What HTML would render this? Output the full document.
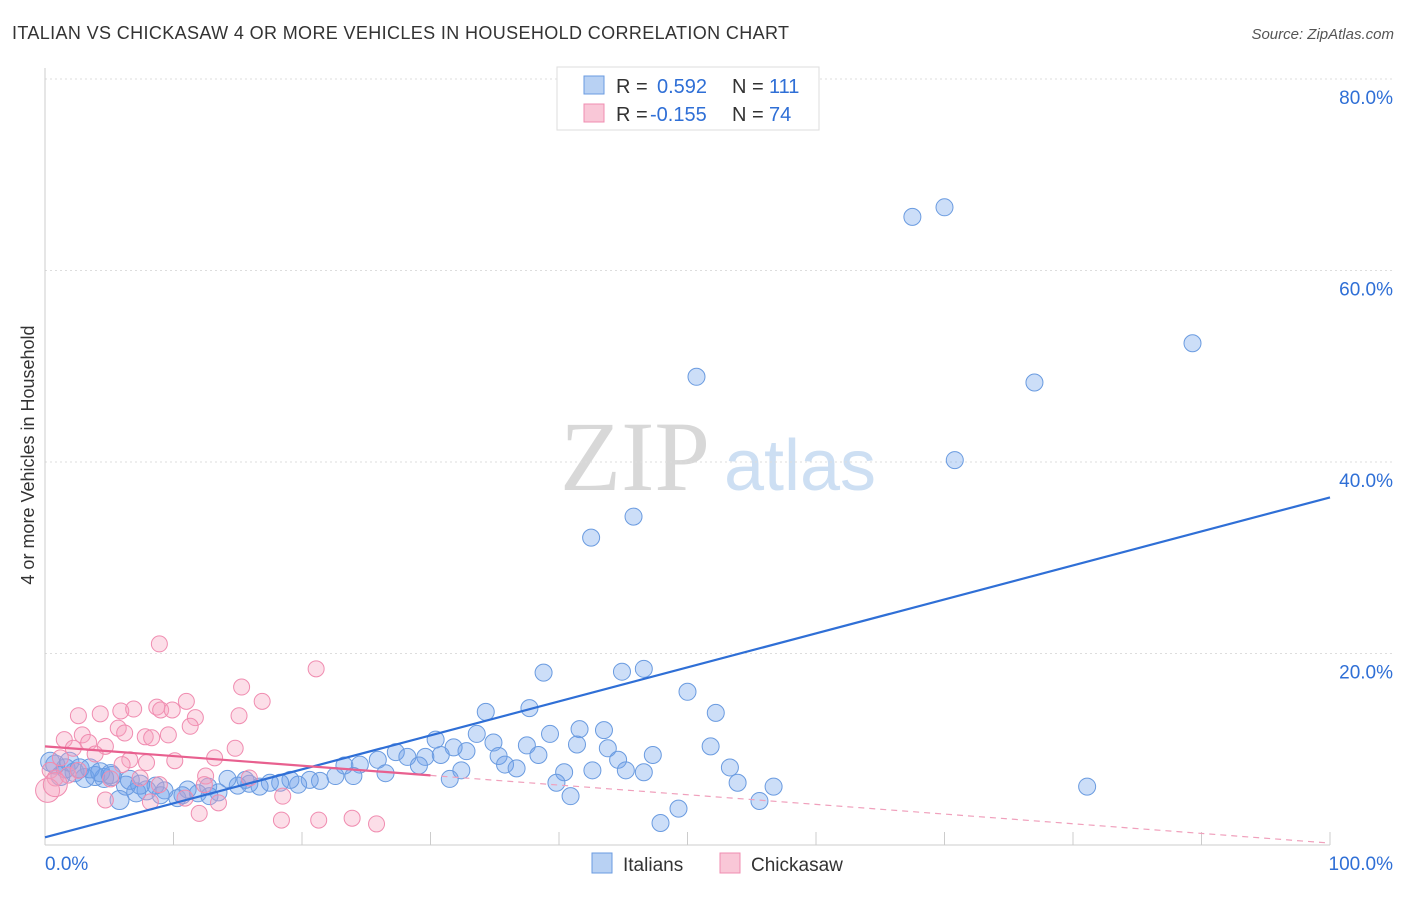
<!DOCTYPE html>
<html><head><meta charset="utf-8"><style>
body{margin:0;background:#fff;font-family:"Liberation Sans",sans-serif;}
</style></head><body>
<svg id="chart" width="1406" height="892" viewBox="0 0 1406 892" font-family="Liberation Sans, sans-serif">
<text x="12" y="39" font-size="18" fill="#333" textLength="777">ITALIAN VS CHICKASAW 4 OR MORE VEHICLES IN HOUSEHOLD CORRELATION CHART</text>
<text x="1394" y="39" font-size="15" fill="#555" text-anchor="end" font-style="italic">Source: ZipAtlas.com</text>
<text transform="translate(34,455) rotate(-90)" font-size="18" fill="#333" text-anchor="middle">4 or more Vehicles in Household</text>
<g>
<text x="635" y="490" font-size="100" fill="#d8d8d8" text-anchor="middle" style="font-family:'Liberation Serif',serif">ZIP</text>
<text x="800" y="490" font-size="72" fill="#cddff3" text-anchor="middle">atlas</text>
</g>
<g id="grid"></g><g id="ticks"></g><g id="marks"></g><g id="lines"></g>
<g>
<rect x="557" y="67" width="262" height="63" fill="#fff" stroke="#ddd"/>
<rect x="584" y="76" width="20" height="18" fill="#b8d1f3" stroke="#6a9be0"/>
<rect x="584" y="104" width="20" height="18" fill="#f9c7d7" stroke="#f08cb0"/>
<text x="616" y="93" font-size="20" fill="#333">R =</text>
<text x="657" y="93" font-size="20" fill="#2f6fd6">0.592</text>
<text x="732" y="93" font-size="20" fill="#333">N =</text>
<text x="769" y="93" font-size="20" fill="#2f6fd6">111</text>
<text x="616" y="121" font-size="20" fill="#333">R =</text>
<text x="650" y="121" font-size="20" fill="#2f6fd6">-0.155</text>
<text x="732" y="121" font-size="20" fill="#333">N =</text>
<text x="769" y="121" font-size="20" fill="#2f6fd6">74</text>
</g>
<g>
<rect x="592" y="853" width="20" height="20" fill="#b8d1f3" stroke="#6a9be0"/>
<text x="623" y="871" font-size="19" fill="#333">Italians</text>
<rect x="720" y="853" width="20" height="20" fill="#f9c7d7" stroke="#f08cb0"/>
<text x="751" y="871" font-size="19" fill="#333">Chickasaw</text>
</g>
<text x="45" y="870" font-size="19" fill="#2f6fd6">0.0%</text>
<text x="1393" y="870" font-size="19" fill="#2f6fd6" text-anchor="end">100.0%</text>
</svg>
<script>
const yTicks=[20,40,60,80];
const yTickLabels=["20.0%","40.0%","60.0%","80.0%"];
const xTicks=[0,10,20,30,40,50,60,70,80,90,100];
const italiansX=[67.5,70.0,89.3,77.0,70.8,50.7,45.8,42.5,38.8,44.9,46.6,50.0,52.2,51.8,53.3,53.9,55.6,56.7,81.1,47.9,49.3,37.7,34.3,39.3,41.6,43.5,41.4,43.8,47.3,44.6,45.2,46.6,42.6,40.4,39.8,40.9,37.5,38.4,34.9,35.3,33.6,32.8,30.4,31.8,30.8,32.4,31.5,35.8,36.7,25.9,27.3,28.2,29.6,29.1,26.5,24.5,23.3,24.0,22.6,21.4,20.6,19.7,19.1,18.3,17.5,16.7,15.9,15.0,14.2,13.5,12.7,11.9,11.1,10.3,9.3,8.6,7.9,7.1,6.3,5.8,5.2,4.6,3.9,3.1,2.3,1.6,0.8,0.4,1.2,1.9,2.7,3.5,4.3,5.1,6.6,7.4,9.0,10.7,12.8,15.6];
const italiansY=[65.6,66.6,52.4,48.3,40.2,48.9,34.3,32.1,18.0,18.1,18.4,16.0,13.8,10.3,8.1,6.5,4.6,6.1,6.1,2.3,3.8,14.3,13.9,11.6,12.1,12.0,10.5,10.1,9.4,8.9,7.8,7.6,7.8,7.6,6.5,5.1,10.4,9.4,10.7,9.3,11.6,9.8,11.0,10.2,9.4,7.8,6.9,8.4,8.0,8.9,9.7,9.2,9.2,8.3,7.5,8.4,8.3,7.2,7.2,6.7,6.8,6.3,6.8,6.5,6.5,6.1,6.4,6.2,6.9,5.5,6.1,5.4,5.8,4.9,5.7,6.2,5.7,5.5,6.2,4.7,7.2,7.0,7.2,7.0,7.6,8.0,8.4,8.7,7.2,8.7,8.0,8.0,7.6,7.4,6.8,6.3,5.2,5.2,5.1,6.8];
const chickasawX=[8.9,21.1,15.3,11.0,16.9,2.6,4.3,5.9,6.9,8.7,9.0,9.9,11.7,15.1,11.3,5.7,2.9,1.5,3.4,4.7,6.2,7.8,8.3,9.6,2.2,3.9,6.6,7.9,13.2,14.8,10.1,1.2,0.4,0.8,1.8,2.6,6.0,5.1,7.4,8.9,12.5,12.4,15.9,4.7,8.2,10.9,13.5,12.0,18.5,18.4,21.3,23.9,25.8,0.2,0.8];
const chickasawY=[21.0,18.4,16.5,15.0,15.0,13.5,13.7,14.0,14.2,14.4,14.1,14.1,13.3,13.5,12.4,12.2,11.5,11.0,10.7,10.3,11.7,11.3,11.2,11.5,10.1,9.5,8.9,8.6,9.1,10.1,8.8,9.1,7.8,7.0,7.3,7.8,8.4,6.9,7.0,6.3,7.2,6.3,7.0,4.7,4.5,4.9,4.4,3.3,5.1,2.6,2.6,2.8,2.2,5.7,6.3];
const italiansTrend=[0.8,36.3];
const chickasawTrend=[10.3,0.2];
const NS='http://www.w3.org/2000/svg';
const X=v=>45+v*12.85, Y=v=>845-v*9.575;
function mk(tag,attrs,parent){const e=document.createElementNS(NS,tag);for(const k in attrs)e.setAttribute(k,attrs[k]);document.getElementById(parent).appendChild(e);return e;}
yTicks.forEach((t,i)=>{
 const g=mk('line',{x1:45,x2:1394,y1:Y(t),y2:Y(t),stroke:'#ddd','stroke-dasharray':'2,3'},'grid');
 
 
 const l=mk('text',{x:1393,y:Y(t)+25,'font-size':19,fill:'#2f6fd6','text-anchor':'end'},'grid');
 l.textContent=yTickLabels[i];
 
 
});
const ya=mk('line',{x1:45,x2:45,y1:68,y2:845,stroke:'#ccc'},'grid');


const xa=mk('line',{x1:45,x2:1330,y1:845,y2:845,stroke:'#ccc'},'grid');


xTicks.forEach(t=>{
 const e=mk('line',{x1:X(t),x2:X(t),y1:832,y2:845,stroke:'#ccc'},'ticks');
 
 
});
italiansX.forEach((x,i)=>{
 const c=mk('circle',{cx:X(x),cy:Y(italiansY[i]),r:(x<8?9.5:8.5),fill:'rgba(110,160,235,0.35)',stroke:'#6a9be0','stroke-width':1},'marks');
 
 
});
chickasawX.forEach((x,i)=>{
 const c=mk('circle',{cx:X(x),cy:Y(chickasawY[i]),r:(i>=53?12:8),fill:'rgba(245,160,190,0.35)',stroke:'#f08cb0','stroke-width':1},'marks');
 
 
});
const bl=mk('line',{x1:X(0),y1:Y(italiansTrend[0]),x2:X(100),y2:Y(italiansTrend[1]),stroke:'#2f6fd6','stroke-width':2.2},'lines');


const cy=v=>chickasawTrend[0]+(chickasawTrend[1]-chickasawTrend[0])*v/100;
const ps=mk('line',{x1:X(0),y1:Y(cy(0)),x2:X(30),y2:Y(cy(30)),stroke:'#e8608f','stroke-width':2.2},'lines');


const pd=mk('line',{x1:X(30),y1:Y(cy(30)),x2:X(100),y2:Y(cy(100)),stroke:'#f0a0bc','stroke-width':1.2,'stroke-dasharray':'6,5'},'lines');


</script>
</body></html>
